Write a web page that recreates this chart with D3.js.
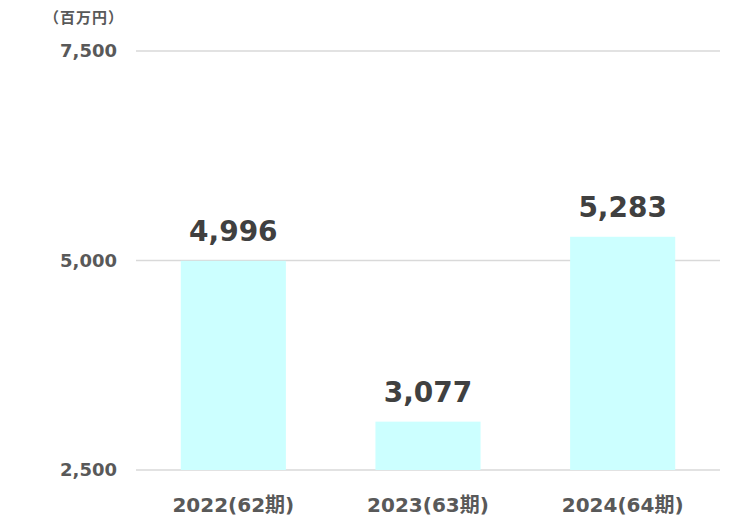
<!DOCTYPE html>
<html>
<head>
<meta charset="utf-8">
<script src="https://cdn.jsdelivr.net/npm/d3@7"></script>
<style>
  body { margin: 0; background: #fff; }
  text { font-family: "DejaVu Sans", "Noto Sans CJK JP", sans-serif; font-weight: bold; }
</style>
</head>
<body>
<script>
var categories = ['2022(62期)', '2023(63期)', '2024(64期)'];
var values = [4996, 3077, 5283];
var yTicks = [2500, 5000, 7500];
var unitLabel = '（百万円）';

var svgWidth = 745, svgHeight = 525;
var plotLeft = 136, plotRight = 720, plotTop = 51, plotBottom = 470;

var svg = d3.select('body')
    .append('svg')
    .attr('width', svgWidth)
    .attr('height', svgHeight);

var xScale = d3.scaleBand()
    .domain(categories)
    .range([plotLeft, plotRight])
    .paddingInner(0.46)
    .paddingOuter(0.23);

var yScale = d3.scaleLinear()
    .domain([2500, 7500])
    .range([plotBottom, plotTop]);

// gridlines
svg.selectAll('line.grid')
    .data(yTicks)
    .enter()
    .append('line')
    .attr('class', 'grid')
    .attr('x1', plotLeft)
    .attr('x2', plotRight)
    .attr('y1', function(d) { return yScale(d); })
    .attr('y2', function(d) { return yScale(d); })
    .attr('stroke', '#d9d9d9')
    .attr('stroke-width', 1.5);

// y labels
svg.selectAll('text.ytick')
    .data(yTicks)
    .enter()
    .append('text')
    .attr('class', 'ytick')
    .attr('x', 117)
    .attr('y', function(d) { return yScale(d); })
    .attr('dy', '0.36em')
    .attr('text-anchor', 'end')
    .attr('fill', '#595959')
    .attr('font-size', 18)
    .text(function(d) { return d3.format(',')(d); });

svg.append('text')
    .attr('x', 124)
    .attr('y', 18)
    .attr('dy', '0.35em')
    .attr('text-anchor', 'end')
    .attr('fill', '#595959')
    .attr('font-size', 15)
    .attr('letter-spacing', 1)
    .text(unitLabel);

// bars
svg.selectAll('rect.bar')
    .data(values)
    .enter()
    .append('rect')
    .attr('class', 'bar')
    .attr('x', function(d, i) { return xScale(categories[i]); })
    .attr('width', xScale.bandwidth())
    .attr('y', function(d) { return yScale(d); })
    .attr('height', function(d) { return yScale(2500) - yScale(d); })
    .attr('fill', '#ccffff');

// value labels
svg.selectAll('text.val')
    .data(values)
    .enter()
    .append('text')
    .attr('class', 'val')
    .attr('x', function(d, i) { return xScale(categories[i]) + xScale.bandwidth() / 2; })
    .attr('y', function(d) { return yScale(d) - 20; })
    .attr('text-anchor', 'middle')
    .attr('fill', '#404040')
    .attr('font-size', 28)
    .text(function(d) { return d3.format(',')(d); });

// category labels
svg.selectAll('text.cat')
    .data(categories)
    .enter()
    .append('text')
    .attr('class', 'cat')
    .attr('x', function(d) { return xScale(d) + xScale.bandwidth() / 2; })
    .attr('y', 512)
    .attr('text-anchor', 'middle')
    .attr('fill', '#595959')
    .attr('font-size', 20)
    .text(function(d) { return d; });
</script>
</body>
</html>
